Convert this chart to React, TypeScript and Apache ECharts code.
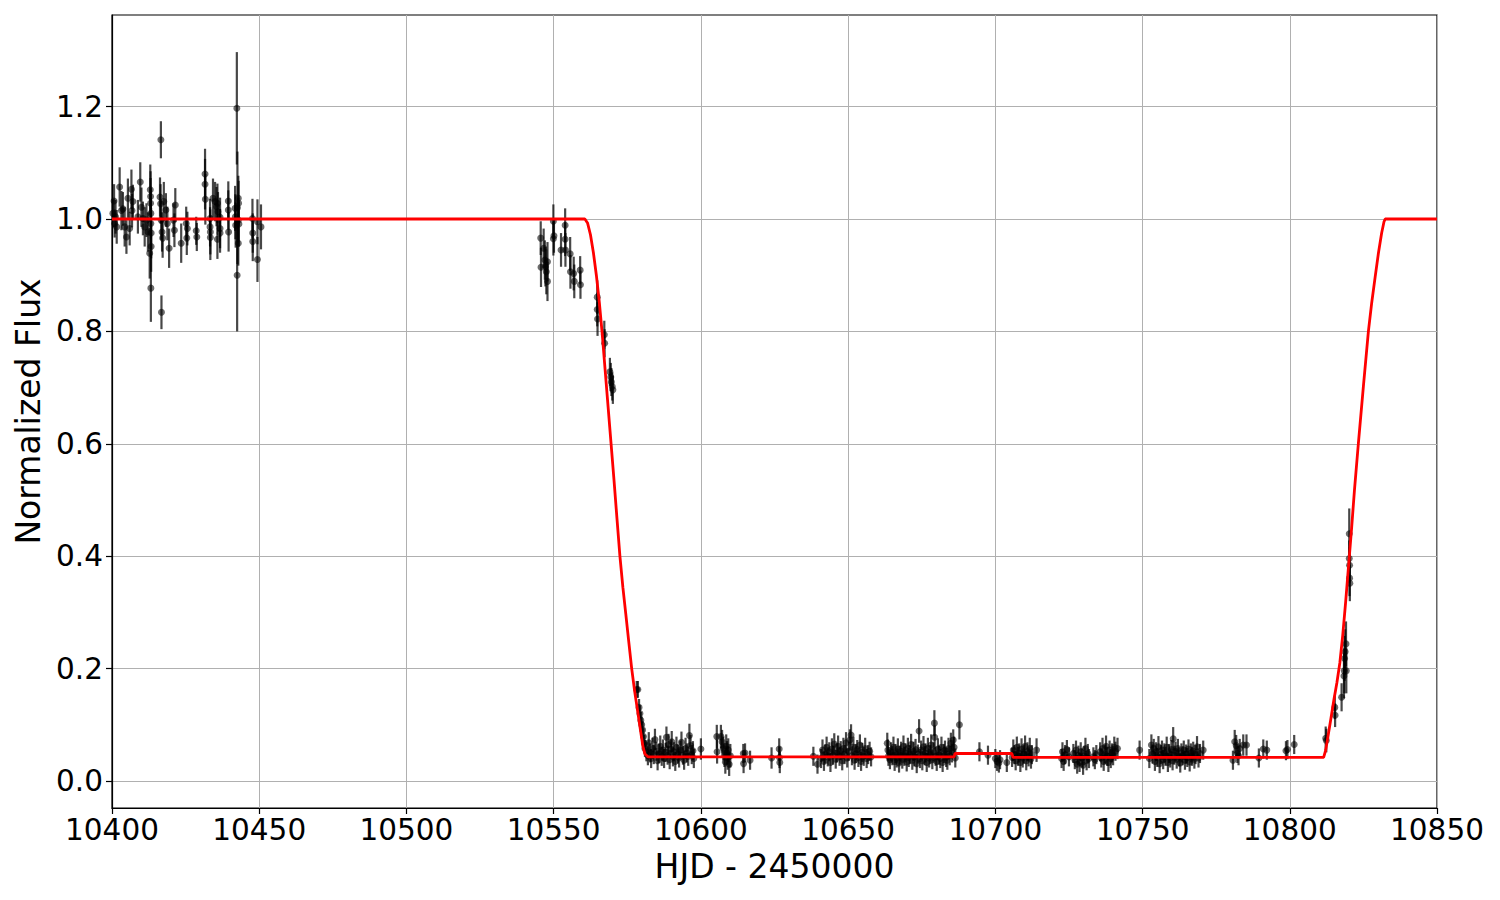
import React, { useEffect, useRef } from "react";
import * as echarts from "echarts";

// ---- Observations (HJD - 2450000, normalized flux, 1-sigma error) ----
const obsHjd: number[] = [
  // pre-ingress baseline
  10400.3, 10400.7, 10400.9, 10401.2, 10401.6, 10402.6, 10403.2, 10403.7, 10404.3, 10404.9,
  10405.4, 10406.0, 10406.6, 10406.8, 10407.1, 10408.8, 10409.6, 10410.0, 10410.5, 10411.1,
  10411.7, 10412.2, 10412.8, 10413.0, 10413.1, 10413.1, 10413.2, 10413.2, 10413.3, 10413.3,
  10413.2, 10416.3, 10416.5, 10416.6, 10416.7, 10416.8, 10417.0, 10417.2, 10417.6, 10418.3,
  10418.8, 10419.4, 10420.9, 10421.2, 10421.5, 10423.5, 10425.2, 10425.4, 10425.6, 10428.6,
  10428.8, 10431.6, 10431.6, 10431.7, 10433.3, 10433.3, 10433.4, 10433.4, 10434.3, 10435.0,
  10435.5, 10435.8, 10436.0, 10435.8, 10436.7, 10436.7, 10436.7, 10439.5, 10439.5, 10439.6,
  10441.8, 10441.9, 10442.0, 10442.4, 10442.5, 10442.6, 10442.9, 10443.0, 10442.9, 10443.1,
  10442.9, 10447.7, 10447.8, 10447.8, 10449.4, 10449.4, 10450.6,
  // ingress
  10545.6, 10545.7, 10546.6, 10547.0, 10547.2, 10547.5, 10547.9, 10547.9, 10549.9, 10549.9,
  10550.1, 10552.5, 10553.9, 10553.9, 10554.0, 10555.6, 10555.7, 10556.8, 10557.0, 10559.0,
  10559.1, 10564.8, 10564.8, 10564.9, 10567.2, 10567.3, 10569.1, 10569.4, 10569.6, 10569.9,
  10570.1,
  10578.2, 10578.6, 10579.0, 10579.3, 10579.6, 10579.9, 10580.2, 10580.5, 10580.8, 10581.0,
  // eclipse bottom
  10581.5, 10582.0, 10582.3, 10582.8, 10583.1, 10583.6, 10584.0, 10584.4, 10584.9, 10585.3,
  10585.8, 10586.2, 10586.7, 10587.1, 10587.5, 10588.0, 10588.3, 10588.7, 10589.0, 10589.4,
  10589.8, 10590.1, 10590.5, 10590.9, 10591.3, 10591.7, 10592.2, 10592.6, 10593.0, 10593.4,
  10593.9, 10594.3, 10594.8, 10595.2, 10595.7, 10596.1, 10596.5, 10596.9, 10597.3, 10597.6,
  10600.0,
  10605.4, 10605.5, 10606.8, 10607.2, 10607.6, 10608.0, 10608.3, 10608.6, 10608.9, 10609.1,
  10609.3, 10609.6, 10610.0,
  10614.4, 10614.5, 10615.0, 10616.7, 10624.0, 10626.6, 10626.7, 10626.8, 10638.2, 10639.6,
  10640.8, 10641.3, 10641.8, 10642.2, 10642.7, 10643.1, 10643.6, 10644.0, 10644.5, 10644.9,
  10645.3, 10645.8, 10646.2, 10646.6, 10647.1, 10647.5, 10648.0, 10648.4, 10648.8, 10649.3,
  10649.7, 10650.2, 10650.6, 10651.0, 10651.3, 10651.8, 10652.2, 10652.6, 10653.1, 10653.5,
  10654.0, 10654.4, 10654.8, 10655.3, 10655.8, 10656.3, 10656.8, 10657.3, 10657.8,
  10663.3, 10663.5, 10663.7, 10664.2, 10664.6, 10665.0, 10665.4, 10665.8, 10666.1, 10666.5,
  10666.9, 10667.3, 10667.6, 10668.0, 10668.4, 10668.8, 10669.1, 10669.5, 10669.9, 10670.3,
  10670.6, 10671.0, 10671.4, 10671.8, 10672.2, 10672.5, 10672.9, 10673.3, 10673.7, 10674.1,
  10674.4, 10674.8, 10675.2, 10675.6, 10676.0, 10676.3, 10676.7, 10677.1, 10677.5, 10677.9,
  10678.2, 10678.6, 10679.0, 10679.3, 10679.4, 10679.7, 10680.1, 10680.5, 10680.9, 10681.3,
  10681.7, 10682.1, 10682.5, 10682.9, 10683.3, 10683.7, 10684.1, 10684.5, 10684.9, 10685.3,
  10685.7, 10686.0, 10686.4, 10687.8,
  10694.6, 10697.5, 10700.0, 10700.6, 10701.2, 10701.6, 10703.9, 10705.7, 10706.1, 10706.5,
  10706.9, 10707.3, 10707.7, 10708.1, 10708.5, 10708.9, 10709.3, 10709.7, 10710.1, 10710.5,
  10710.9, 10711.3, 10711.7, 10712.1, 10712.4, 10714.0,
  10722.5, 10722.8, 10723.2, 10723.7, 10724.3, 10725.0, 10726.5, 10727.0, 10727.4, 10727.8,
  10728.2, 10728.6, 10729.0, 10729.4, 10729.8, 10730.2, 10730.6, 10731.0, 10731.4, 10731.8,
  10733.3, 10733.8, 10734.3, 10735.6, 10736.0, 10736.4, 10736.8, 10737.2, 10737.6, 10738.0,
  10738.4, 10738.8, 10739.2, 10739.6, 10740.0, 10740.4, 10740.8, 10741.5,
  10749.0, 10752.3, 10753.0, 10753.4, 10753.8, 10754.2, 10754.6, 10755.0, 10755.4, 10755.8,
  10756.2, 10756.6, 10757.0, 10757.4, 10757.8, 10758.2, 10758.6, 10759.0, 10759.4, 10759.8,
  10760.2, 10760.4, 10760.8, 10761.2, 10761.6, 10762.0, 10762.4, 10762.8, 10763.2, 10763.6,
  10764.0, 10764.4, 10764.8, 10765.2, 10765.6, 10766.0, 10766.4, 10766.8, 10767.2, 10767.6,
  10768.0, 10768.5, 10769.0, 10769.5, 10770.6,
  10780.7, 10781.3, 10781.8, 10782.2, 10782.6, 10783.0, 10784.2, 10785.3, 10789.5, 10791.0,
  10792.2, 10798.7, 10799.2, 10801.5,
  // egress
  10812.2, 10812.4, 10815.3, 10815.4, 10817.6, 10818.4, 10818.5, 10818.6, 10818.8, 10819.1,
  10819.2, 10820.2, 10820.2, 10820.3, 10820.3, 10820.4,
];

const obsFlux: number[] = [
  1.010, 1.032, 0.992, 1.004, 0.986, 1.057, 1.015, 1.018, 0.986, 0.968,
  1.037, 0.983, 1.053, 1.015, 1.031, 1.004, 1.066, 1.021, 1.001, 0.986,
  0.998, 0.977, 0.939, 1.052, 1.040, 1.028, 1.010, 0.992, 0.975, 0.951,
  0.877, 1.039, 1.027, 1.141, 0.998, 0.834, 0.977, 0.966, 1.031, 1.016,
  0.992, 0.948, 0.998, 0.980, 1.025, 0.957, 0.992, 0.966, 0.983, 0.979,
  0.968, 1.080, 1.062, 1.035, 1.001, 0.986, 0.977, 0.967, 1.037, 1.031,
  1.022, 1.028, 1.013, 0.964, 0.983, 0.975, 1.003, 1.032, 1.016, 0.977,
  1.019, 1.004, 0.989, 1.197, 0.900, 1.020, 1.037, 1.028, 0.998, 0.991,
  0.957, 1.001, 0.975, 0.960, 0.995, 0.928, 0.986,
  0.966, 0.914, 0.948, 0.927, 0.915, 0.906, 0.924, 0.889, 0.996, 0.965,
  0.970, 0.945, 0.989, 0.964, 0.945, 0.938, 0.906, 0.903, 0.889, 0.909,
  0.883, 0.861, 0.839, 0.822, 0.794, 0.779, 0.728, 0.719, 0.710, 0.702,
  0.696,
  0.163, 0.163, 0.131, 0.120, 0.108, 0.100, 0.091, 0.079, 0.067, 0.058,
  0.052, 0.045, 0.068, 0.050, 0.040, 0.058, 0.047, 0.074, 0.053, 0.036,
  0.049, 0.062, 0.044, 0.055, 0.040, 0.051, 0.078, 0.046, 0.065, 0.038,
  0.057, 0.070, 0.043, 0.052, 0.035, 0.060, 0.048, 0.041, 0.055, 0.069,
  0.046, 0.037, 0.058, 0.050, 0.044, 0.081, 0.063, 0.047, 0.054, 0.040,
  0.057,
  0.079, 0.052, 0.079, 0.070, 0.058, 0.046, 0.034, 0.062, 0.050, 0.041,
  0.055, 0.030, 0.045,
  0.049, 0.031, 0.050, 0.037, 0.041, 0.057, 0.042, 0.033, 0.044, 0.030,
  0.040, 0.055, 0.035, 0.048, 0.060, 0.043, 0.052, 0.033, 0.057, 0.046,
  0.066, 0.039, 0.050, 0.062, 0.044, 0.054, 0.036, 0.058, 0.047, 0.068,
  0.041, 0.053, 0.073, 0.082, 0.045, 0.060, 0.037, 0.049, 0.056, 0.042,
  0.064, 0.035, 0.051, 0.044, 0.058, 0.040, 0.047, 0.053, 0.043,
  0.067, 0.055, 0.044, 0.038, 0.052, 0.045, 0.060, 0.035, 0.049, 0.041,
  0.057, 0.032, 0.046, 0.053, 0.039, 0.062, 0.044, 0.050, 0.034, 0.058,
  0.042, 0.047, 0.065, 0.037, 0.053, 0.043, 0.056, 0.031, 0.048, 0.089,
  0.040, 0.055, 0.036, 0.061, 0.045, 0.050, 0.033, 0.058, 0.041, 0.047,
  0.064, 0.038, 0.052, 0.103, 0.078, 0.044, 0.035, 0.057, 0.046, 0.040,
  0.060, 0.033, 0.049, 0.055, 0.042, 0.037, 0.058, 0.045, 0.067, 0.050,
  0.073, 0.060, 0.041, 0.100,
  0.052, 0.046, 0.040, 0.035, 0.032, 0.038, 0.033, 0.042, 0.055, 0.047,
  0.036, 0.060, 0.044, 0.050, 0.033, 0.057, 0.041, 0.048, 0.062, 0.036,
  0.052, 0.043, 0.058, 0.039, 0.047, 0.055,
  0.040, 0.052, 0.035, 0.047, 0.056, 0.043, 0.049, 0.038, 0.055, 0.030,
  0.046, 0.033, 0.052, 0.041, 0.028, 0.045, 0.058, 0.036, 0.049, 0.040,
  0.043, 0.038, 0.047, 0.052, 0.041, 0.058, 0.035, 0.048, 0.062, 0.044,
  0.033, 0.055, 0.040, 0.050, 0.045, 0.060, 0.053, 0.058,
  0.055, 0.040, 0.064, 0.048, 0.058, 0.035, 0.052, 0.042, 0.061, 0.031,
  0.047, 0.055, 0.038, 0.050, 0.044, 0.060, 0.033, 0.049, 0.041, 0.056,
  0.036, 0.075, 0.046, 0.053, 0.039, 0.058, 0.043, 0.032, 0.050, 0.045,
  0.055, 0.037, 0.048, 0.042, 0.057, 0.034, 0.050, 0.044, 0.053, 0.039,
  0.047, 0.061, 0.041, 0.049, 0.055,
  0.037, 0.070, 0.063, 0.049, 0.045, 0.058, 0.064, 0.064, 0.041, 0.057,
  0.055, 0.054, 0.056, 0.065,
  0.076, 0.072, 0.131, 0.117, 0.149, 0.187, 0.196, 0.218, 0.230, 0.244,
  0.196, 0.440, 0.396, 0.384, 0.361, 0.352,
];

const obsErr: number[] = [
  0.025, 0.030, 0.025, 0.030, 0.030, 0.035, 0.035, 0.030, 0.035, 0.030,
  0.035, 0.030, 0.035, 0.030, 0.030, 0.030, 0.035, 0.035, 0.030, 0.035,
  0.030, 0.035, 0.045, 0.045, 0.045, 0.045, 0.045, 0.045, 0.045, 0.045,
  0.060, 0.035, 0.035, 0.033, 0.035, 0.030, 0.035, 0.035, 0.035, 0.030,
  0.030, 0.035, 0.030, 0.030, 0.030, 0.035, 0.030, 0.030, 0.030, 0.025,
  0.025, 0.045, 0.045, 0.045, 0.035, 0.035, 0.040, 0.040, 0.035, 0.035,
  0.035, 0.035, 0.035, 0.035, 0.035, 0.035, 0.035, 0.035, 0.035, 0.035,
  0.040, 0.040, 0.040, 0.100, 0.100, 0.100, 0.040, 0.040, 0.040, 0.040,
  0.040, 0.035, 0.035, 0.035, 0.040, 0.040, 0.040,
  0.030, 0.035, 0.035, 0.035, 0.035, 0.040, 0.035, 0.035, 0.030, 0.030,
  0.030, 0.030, 0.030, 0.030, 0.030, 0.030, 0.030, 0.030, 0.030, 0.025,
  0.025, 0.030, 0.030, 0.030, 0.025, 0.025, 0.025, 0.025, 0.025, 0.025,
  0.025,
  0.015, 0.015, 0.015, 0.015, 0.015, 0.015, 0.015, 0.015, 0.015, 0.015,
  0.017, 0.017, 0.019, 0.017, 0.017, 0.019, 0.017, 0.019, 0.017, 0.017,
  0.017, 0.019, 0.017, 0.019, 0.017, 0.017, 0.019, 0.017, 0.019, 0.017,
  0.017, 0.019, 0.017, 0.017, 0.017, 0.019, 0.017, 0.017, 0.017, 0.019,
  0.017, 0.017, 0.019, 0.017, 0.017, 0.021, 0.019, 0.017, 0.017, 0.017,
  0.019,
  0.021, 0.021, 0.021, 0.021, 0.021, 0.021, 0.021, 0.021, 0.021, 0.021,
  0.021, 0.021, 0.021,
  0.017, 0.017, 0.017, 0.017, 0.019, 0.019, 0.019, 0.019, 0.017, 0.017,
  0.017, 0.019, 0.017, 0.017, 0.019, 0.017, 0.017, 0.017, 0.019, 0.017,
  0.019, 0.017, 0.017, 0.019, 0.017, 0.017, 0.017, 0.019, 0.017, 0.019,
  0.017, 0.017, 0.019, 0.019, 0.017, 0.019, 0.017, 0.017, 0.017, 0.017,
  0.019, 0.017, 0.017, 0.017, 0.019, 0.017, 0.017, 0.017, 0.017,
  0.019, 0.019, 0.017, 0.017, 0.017, 0.017, 0.019, 0.017, 0.017, 0.017,
  0.019, 0.017, 0.017, 0.017, 0.017, 0.019, 0.017, 0.017, 0.017, 0.019,
  0.017, 0.017, 0.019, 0.017, 0.017, 0.017, 0.019, 0.017, 0.017, 0.021,
  0.017, 0.017, 0.017, 0.019, 0.017, 0.017, 0.017, 0.019, 0.017, 0.017,
  0.019, 0.017, 0.017, 0.023, 0.021, 0.017, 0.017, 0.019, 0.017, 0.017,
  0.019, 0.017, 0.017, 0.017, 0.017, 0.017, 0.019, 0.017, 0.019, 0.017,
  0.019, 0.019, 0.017, 0.026,
  0.017, 0.017, 0.017, 0.017, 0.017, 0.017, 0.017, 0.017, 0.019, 0.017,
  0.017, 0.019, 0.017, 0.017, 0.017, 0.019, 0.017, 0.017, 0.019, 0.017,
  0.017, 0.017, 0.019, 0.017, 0.017, 0.021,
  0.017, 0.017, 0.017, 0.017, 0.017, 0.017, 0.017, 0.017, 0.017, 0.017,
  0.017, 0.017, 0.017, 0.017, 0.017, 0.017, 0.019, 0.017, 0.017, 0.017,
  0.017, 0.017, 0.017, 0.017, 0.017, 0.019, 0.017, 0.017, 0.019, 0.017,
  0.017, 0.017, 0.017, 0.017, 0.017, 0.019, 0.017, 0.019,
  0.017, 0.017, 0.019, 0.017, 0.017, 0.017, 0.017, 0.017, 0.019, 0.017,
  0.017, 0.017, 0.017, 0.017, 0.017, 0.019, 0.017, 0.017, 0.017, 0.017,
  0.017, 0.021, 0.017, 0.017, 0.017, 0.017, 0.017, 0.017, 0.017, 0.017,
  0.017, 0.017, 0.017, 0.017, 0.017, 0.017, 0.017, 0.017, 0.017, 0.017,
  0.017, 0.019, 0.017, 0.017, 0.017,
  0.017, 0.021, 0.019, 0.017, 0.017, 0.017, 0.019, 0.019, 0.017, 0.017,
  0.017, 0.017, 0.017, 0.017,
  0.021, 0.021, 0.021, 0.021, 0.025, 0.040, 0.040, 0.040, 0.040, 0.040,
  0.040, 0.045, 0.032, 0.032, 0.032, 0.032,
];

// ---- Eclipse model ----
const modelHjd: number[] = [
  10400, 10560.6, 10561.5, 10562.5, 10563.5, 10564.5, 10565.5, 10566.5, 10567.5, 10568.5,
  10569.5, 10570.5, 10571.5, 10572.5, 10573.5, 10574.5, 10575.5, 10576.5, 10577.5, 10578.5,
  10579.5, 10580.3, 10581.0, 10582.0, 10686.0, 10686.3, 10705.6, 10706.0, 10811.5, 10812.2,
  10813.0, 10814.0, 10815.0, 10816.0, 10817.0, 10818.0, 10819.0, 10820.0, 10821.0, 10822.0,
  10823.3, 10825.0, 10826.7, 10827.8, 10829.0, 10830.1, 10831.2, 10832.0, 10832.4, 10850,
];
const modelFlux: number[] = [
  1.0, 1.0, 0.993, 0.972, 0.94, 0.9, 0.852, 0.795, 0.73, 0.665,
  0.6, 0.535, 0.467, 0.4, 0.345, 0.297, 0.248, 0.2, 0.16, 0.125,
  0.09, 0.062, 0.048, 0.043, 0.043, 0.049, 0.049, 0.042, 0.042, 0.055,
  0.08, 0.112, 0.145, 0.175, 0.21, 0.26, 0.32, 0.385, 0.45, 0.52,
  0.601, 0.702, 0.8, 0.85, 0.897, 0.939, 0.975, 0.995, 1.0, 1.0,
];

const xTicks: number[] = [10400, 10450, 10500, 10550, 10600, 10650, 10700, 10750, 10800, 10850];
const yTicks: number[] = [0.0, 0.2, 0.4, 0.6, 0.8, 1.0, 1.2];

const FONT = "DejaVu Sans";

export default function App() {
  const ref = useRef<HTMLDivElement>(null);

  useEffect(() => {
    if (!ref.current) return;
    const chart = echarts.init(ref.current, undefined, { renderer: "svg" });

    const obs = obsHjd.map((t, i) => [t, obsFlux[i], obsErr[i]]);
    const model = modelHjd.map((t, i) => [t, modelFlux[i]]);

    chart.setOption({
      animation: false,
      backgroundColor: "#ffffff",
      grid: {
        left: 112,
        right: 63,
        top: 15,
        bottom: 92,
        show: true,
        borderColor: "#000000",
        borderWidth: 1.2,
        backgroundColor: "transparent",
      },
      xAxis: {
        type: "value",
        min: 10400,
        max: 10850,
        interval: 50,
        name: "HJD - 2450000",
        nameLocation: "middle",
        nameGap: 40,
        nameTextStyle: { fontFamily: FONT, fontSize: 33, color: "#000" },
        axisLine: { show: true, onZero: false, lineStyle: { color: "#000", width: 1.2 } },
        axisTick: { show: true, length: 6, lineStyle: { color: "#000", width: 1.2 }, customValues: xTicks },
        axisLabel: {
          fontFamily: FONT,
          fontSize: 29.5,
          color: "#000",
          margin: 7,
          customValues: xTicks,
          formatter: (v: number) => String(v),
        },
        splitLine: { show: true, lineStyle: { color: "#b0b0b0", width: 1 } },
      },
      yAxis: {
        type: "value",
        min: -0.048,
        max: 1.363,
        name: "Normalized Flux",
        nameLocation: "middle",
        nameGap: 66,
        nameRotate: 90,
        nameTextStyle: { fontFamily: FONT, fontSize: 33, color: "#000" },
        axisLine: { show: true, onZero: false, lineStyle: { color: "#000", width: 1.2 } },
        axisTick: { show: true, length: 6, lineStyle: { color: "#000", width: 1.2 }, customValues: yTicks },
        axisLabel: {
          fontFamily: FONT,
          fontSize: 29.5,
          color: "#000",
          margin: 9,
          customValues: yTicks,
          formatter: (v: number) => v.toFixed(1),
        },
        splitLine: { show: true, lineStyle: { color: "#b0b0b0", width: 1 } },
      },
      series: [
        {
          type: "custom",
          name: "errors",
          data: obs,
          clip: true,
          encode: { x: 0, y: 1 },
          z: 2,
          renderItem: (_params: any, api: any) => {
            const t = api.value(0);
            const f = api.value(1);
            const e = api.value(2);
            const p1 = api.coord([t, f - e]);
            const p2 = api.coord([t, f + e]);
            return {
              type: "line",
              shape: { x1: p1[0], y1: p1[1], x2: p2[0], y2: p2[1] },
              style: { stroke: "rgba(0,0,0,0.72)", lineWidth: 2.2 },
            };
          },
        },
        {
          type: "scatter",
          name: "data",
          data: obs.map((d) => [d[0], d[1]]),
          symbol: "circle",
          symbolSize: 7,
          itemStyle: { color: "rgba(0,0,0,0.72)" },
          z: 3,
        },
        {
          type: "line",
          name: "model",
          data: model,
          showSymbol: false,
          symbol: "none",
          lineStyle: { color: "#ff0000", width: 2.8 },
          z: 4,
        },
      ],
    });

    return () => {
      chart.dispose();
    };
  }, []);

  return (
    <div
      ref={ref}
      style={{ position: "fixed", left: 0, top: 0, width: 1500, height: 900, background: "#fff" }}
    />
  );
}
